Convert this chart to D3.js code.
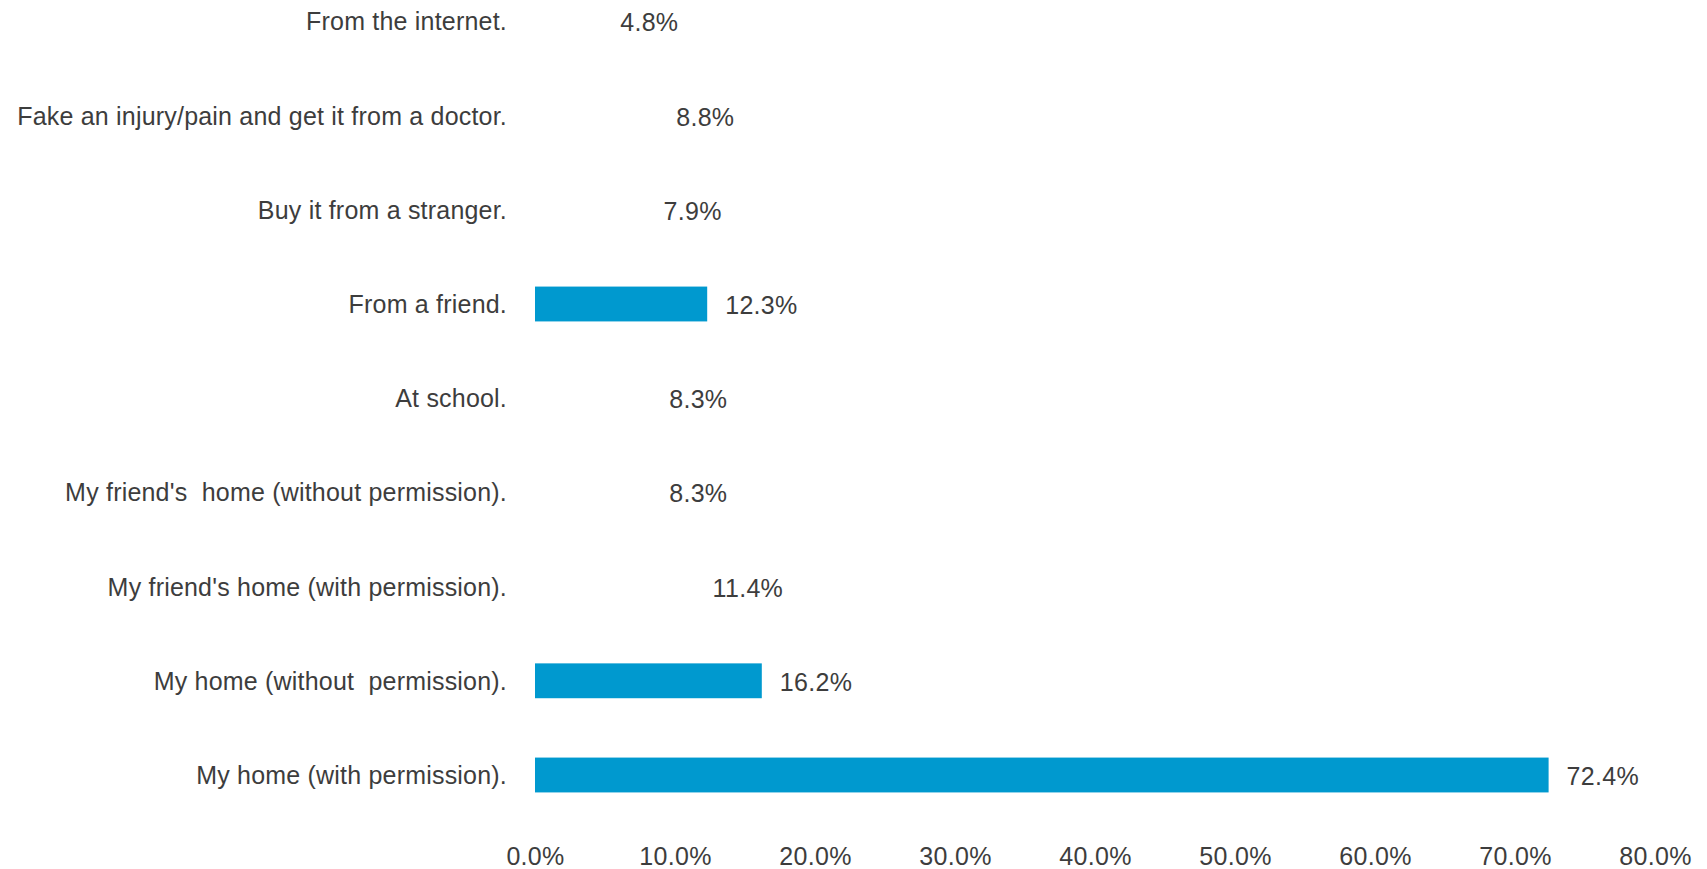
<!DOCTYPE html>
<html>
<head>
<meta charset="utf-8">
<script src="https://cdn.jsdelivr.net/npm/d3@7"></script>
<style>
  html, body { margin: 0; padding: 0; background: #fff; }
  svg { display: block; }
  text { font-family: "Liberation Sans", Arial, sans-serif; }
</style>
</head>
<body>
<script>
// Data (top to bottom as shown)
const categories = [
  "From the internet.",
  "Fake an injury/pain and get it from a doctor.",
  "Buy it from a stranger.",
  "From a friend.",
  "At school.",
  "My friend's  home (without permission).",
  "My friend's home (with permission).",
  "My home (without  permission).",
  "My home (with permission)."
];
const values = [4.8, 8.8, 7.9, 12.3, 8.3, 8.3, 11.4, 16.2, 72.4];
// Bars that actually appear filled in the reference image
const barShown = [false, false, false, true, false, false, false, true, true];
const tickValues = [0, 10, 20, 30, 40, 50, 60, 70, 80];

const W = 1707, H = 869;
const svg = d3.select("body").append("svg").attr("width", W).attr("height", H);

const x = d3.scaleLinear().domain([0, 80]).range([535, 1655]);
const step = (775 - 21.4) / 8;
const y = d3.scaleBand()
  .domain(categories)
  .range([21.4 - step / 2, 775 + step / 2])
  .paddingInner(0.63)
  .paddingOuter(0.315);

const textColor = "#3d3d3d";
const barColor = "#0099cf";
const fs = 25;

// Bars
svg.append("g").selectAll("rect")
  .data(categories.map((c, i) => ({ c, v: values[i], shown: barShown[i] })).filter(d => d.shown))
  .join("rect")
  .attr("x", x(0))
  .attr("y", d => y(d.c))
  .attr("width", d => x(d.v) - x(0))
  .attr("height", y.bandwidth())
  .attr("fill", barColor);

// Category labels
svg.append("g").selectAll("text")
  .data(categories)
  .join("text")
  .attr("x", 507)
  .attr("y", d => y(d) + y.bandwidth() / 2)
  .attr("text-anchor", "end")
  .attr("dominant-baseline", "central")
  .attr("font-size", fs)
  .attr("letter-spacing", 0.2)
  .attr("fill", textColor)
  .style("white-space", "pre")
  .text(d => d);

// Value labels
svg.append("g").selectAll("text")
  .data(categories.map((c, i) => ({ c, v: values[i] })))
  .join("text")
  .attr("x", d => x(d.v) + 18)
  .attr("y", d => y(d.c) + y.bandwidth() / 2 + 1)
  .attr("dominant-baseline", "central")
  .attr("font-size", fs)
  .attr("letter-spacing", 0.3)
  .attr("fill", textColor)
  .text(d => d.v.toFixed(1) + "%");

// X axis (labels only)
const xAxis = d3.axisBottom(x).tickValues(tickValues).tickSize(0).tickPadding(0)
  .tickFormat(d => d.toFixed(1) + "%");
const gx = svg.append("g").attr("transform", "translate(0,847)").call(xAxis);
gx.select(".domain").remove();
gx.selectAll("text")
  .attr("font-size", fs)
  .attr("letter-spacing", 0.3)
  .attr("fill", textColor)
  .attr("dy", "0.71em")
  .style("font-family", '"Liberation Sans", Arial, sans-serif');
</script>
</body>
</html>
